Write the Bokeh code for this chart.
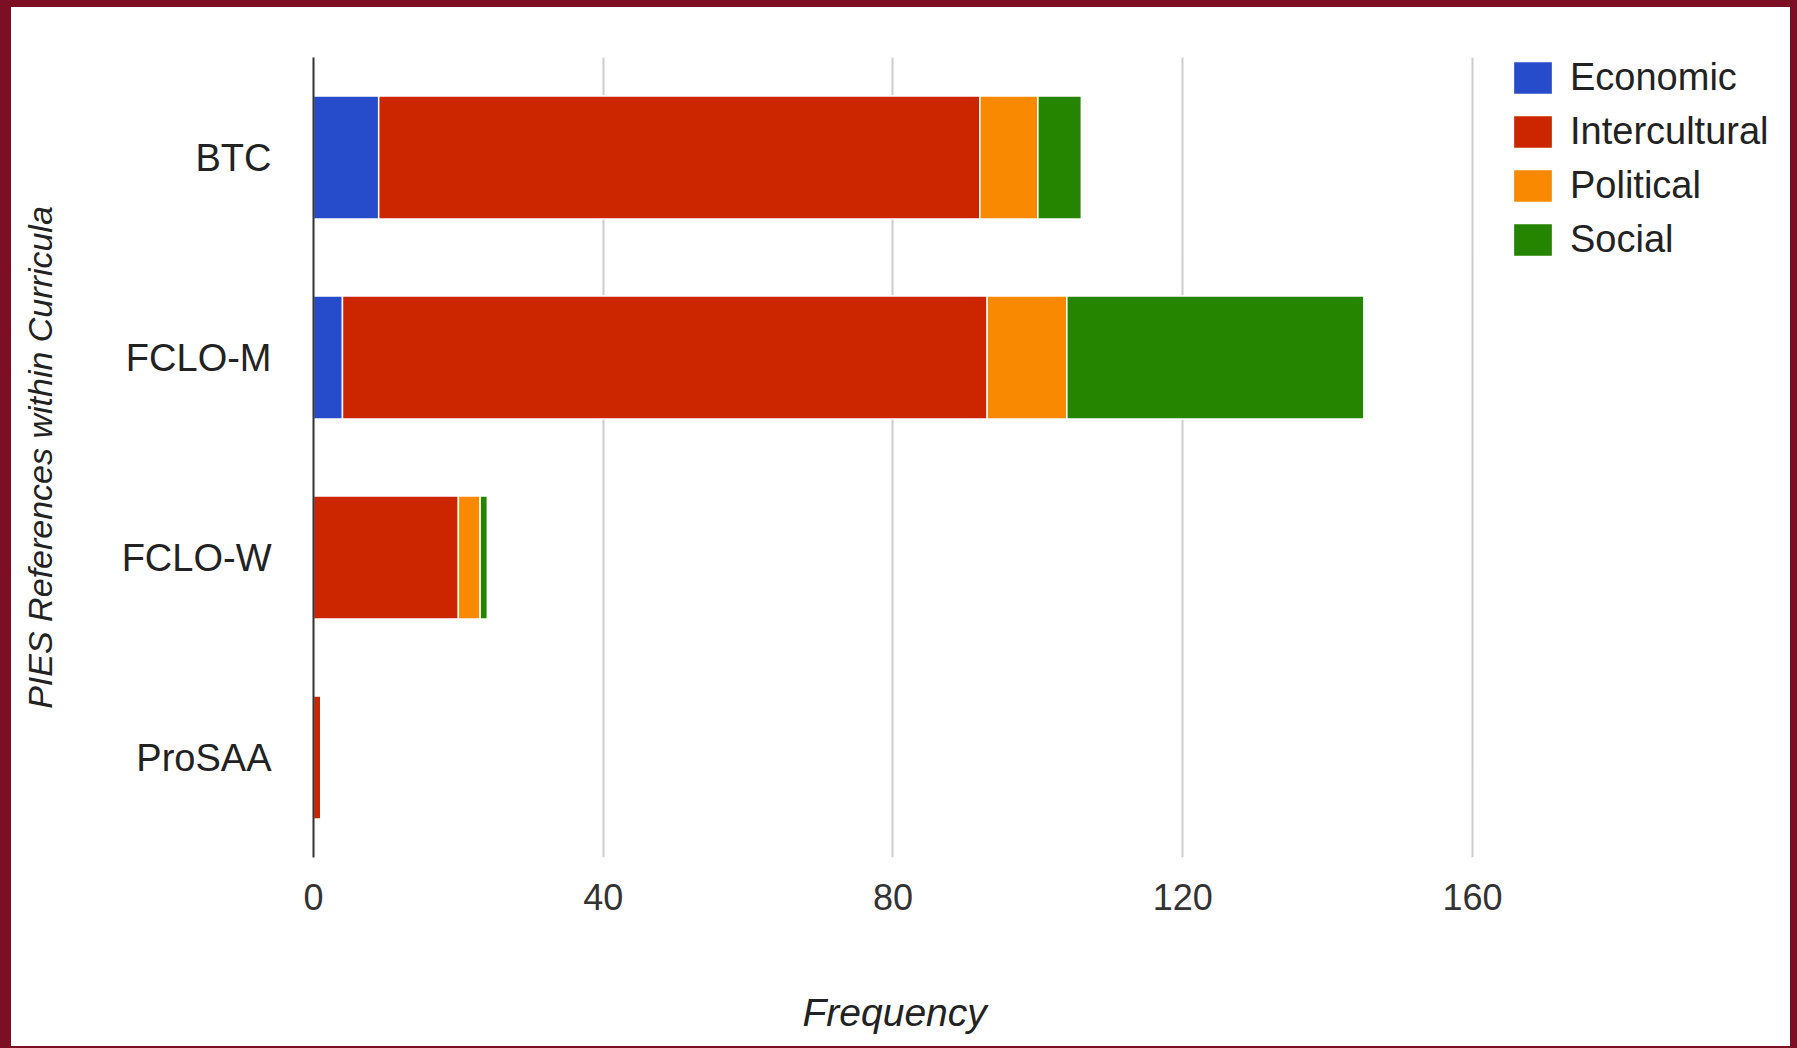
from bokeh.plotting import figure
from bokeh.models import ColumnDataSource, FactorRange, Range1d, FixedTicker, Legend, LegendItem, Title
from bokeh.layouts import column
from bokeh.embed import file_html
from bokeh.resources import INLINE

categories = ["BTC", "FCLO-M", "FCLO-W", "ProSAA"]
series_names = ["Economic", "Intercultural", "Political", "Social"]
economic = [9, 4, 0, 0]
intercultural = [83, 89, 20, 1]
political = [8, 11, 3, 0]
social = [6, 41, 1, 0]
x_ticks = [0, 40, 80, 120, 160]
colors = ["#274ccb", "#cc2600", "#f98900", "#258500"]

source = ColumnDataSource(dict(cat=categories, Economic=economic, Intercultural=intercultural,
                               Political=political, Social=social))

FONT = "Liberation Sans"

p = figure(width=1779, height=1039,
           y_range=FactorRange(factors=categories[::-1]),
           x_range=Range1d(0, 203.9),
           output_backend="svg", toolbar_location=None,
           min_border_left=302, min_border_right=0, min_border_top=50, min_border_bottom=189)
p.styles = {"background-color": "white"}

renderers = p.hbar_stack(series_names, y="cat", height=0.615, fill_color=colors,
                         line_color="white", line_width=1.5, source=source)

p.outline_line_color = None
p.background_fill_color = "white"
p.border_fill_color = "white"

p.ygrid.visible = False
p.xgrid.ticker = FixedTicker(ticks=x_ticks)
p.xgrid.grid_line_color = "#cccccc"
p.xgrid.grid_line_width = 2

xa = p.xaxis[0]
xa.ticker = FixedTicker(ticks=x_ticks)
xa.axis_line_color = None
xa.major_tick_line_color = None
xa.minor_tick_line_color = None
xa.major_label_text_font = FONT
xa.major_label_text_font_size = "36px"
xa.major_label_text_color = "#333333"
xa.major_label_standoff = 20

# spacer between tick labels and axis title
spacer = Title(text=" ", text_font_size="2px", standoff=67)
p.add_layout(spacer, "below")

xtitle = Title(text="Frequency", align="left", offset=489,
               text_font=FONT, text_font_style="italic", text_font_size="39px",
               text_color="#222222", standoff=10)
p.add_layout(xtitle, "below")

ya = p.yaxis[0]
ya.axis_line_color = "#333333"
ya.axis_line_width = 2
ya.major_tick_line_color = None
ya.minor_tick_line_color = None
ya.major_label_text_font = FONT
ya.major_label_text_font_size = "38px"
ya.major_label_text_color = "#222222"
ya.major_label_standoff = 36
ya.axis_label = "PIES References within Curricula"
ya.axis_label_text_font = FONT
ya.axis_label_text_font_style = "italic"
ya.axis_label_text_font_size = "34px"
ya.axis_label_text_color = "#222222"
ya.axis_label_standoff = 60

legend = Legend(items=[LegendItem(label=n, renderers=[r]) for n, r in zip(series_names, renderers)],
                location=(1195, 596))
legend.padding = 0
legend.margin = 0
legend.border_line_alpha = 0
legend.background_fill_alpha = 0
legend.glyph_width = 49
legend.glyph_height = 41
legend.label_height = 41
legend.label_standoff = 13
legend.spacing = 11
legend.label_text_font = FONT
legend.label_text_font_size = "38px"
legend.label_text_color = "#222222"
p.add_layout(legend, "center")

layout = column(p, styles={"background-color": "#7c0f24", "padding": "7px 7px 2px 11px"})

open("out.html", "w").write(file_html(layout, INLINE))
